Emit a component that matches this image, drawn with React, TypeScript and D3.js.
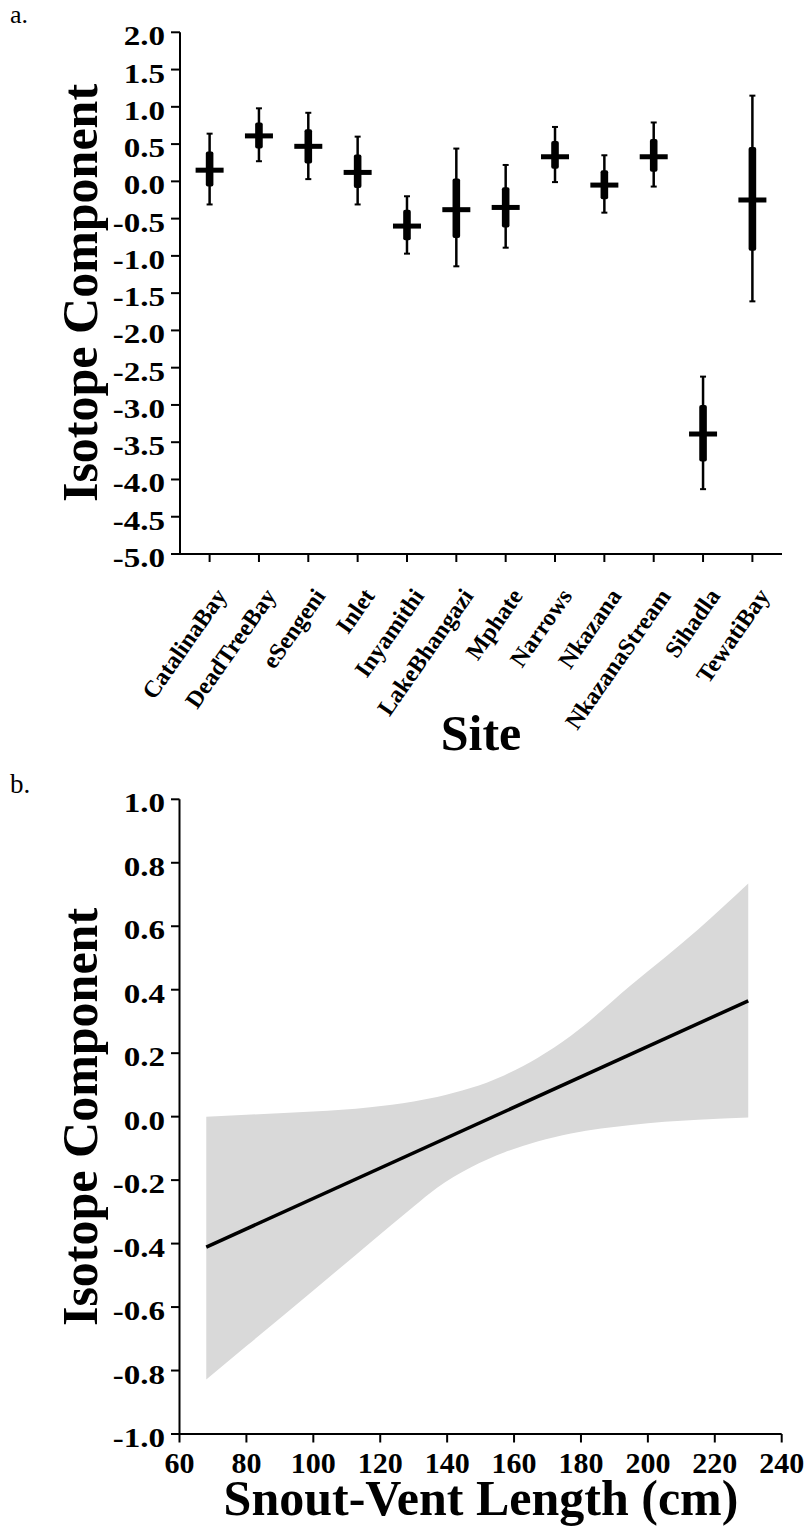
import React from "react";
import * as d3 from "d3";

// ---------- Panel a data ----------
const sites = ["CatalinaBay", "DeadTreeBay", "eSengeni", "Inlet", "Inyamithi", "LakeBhangazi", "Mphate", "Narrows", "Nkazana", "NkazanaStream", "Sihadla", "TewatiBay"];
const siteMean = [0.15, 0.61, 0.47, 0.12, -0.6, -0.38, -0.35, 0.33, -0.05, 0.33, -3.39, -0.25];
const siteBoxHi = [0.4, 0.79, 0.7, 0.36, -0.38, 0.04, -0.08, 0.54, 0.15, 0.57, -3.0, 0.46];
const siteBoxLo = [-0.07, 0.44, 0.24, -0.09, -0.79, -0.76, -0.62, 0.17, -0.24, 0.13, -3.76, -0.93];
const siteWhiskHi = [0.64, 0.98, 0.92, 0.6, -0.2, 0.44, 0.22, 0.73, 0.35, 0.79, -2.62, 1.15];
const siteWhiskLo = [-0.31, 0.27, 0.03, -0.31, -0.97, -1.14, -0.89, -0.01, -0.42, -0.07, -4.13, -1.61];
const yTicksA = d3.range(-5, 2.0001, 0.5);

// ---------- Panel b data ----------
const svlGrid = [68, 80, 100, 117, 130, 137, 147, 157, 167, 177, 195, 215, 230];
const bandUpper = [0.0, 0.006, 0.016, 0.03, 0.048, 0.062, 0.09, 0.13, 0.185, 0.255, 0.415, 0.59, 0.735];
const bandLower = [-0.828, -0.723, -0.548, -0.397, -0.283, -0.224, -0.16, -0.113, -0.078, -0.053, -0.026, -0.01, -0.003];
const fitX = [68, 230];
const fitY = [-0.411, 0.365];
const yTicksB = d3.range(-1, 1.0001, 0.2);
const xTicksB = d3.range(60, 240.001, 20);

const FONT = "'Liberation Serif', 'Times New Roman', serif";

export default function App() {
  // panel a scales
  const xA = d3.scalePoint<string>().domain(sites).range([180, 782]).padding(0.6);
  const yA = d3.scaleLinear().domain([-5, 2]).range([554, 32.3]);
  // panel b scales
  const xB = d3.scaleLinear().domain([60, 240]).range([179.5, 781.7]);
  const yB = d3.scaleLinear().domain([-1, 1]).range([1434, 799.3]);

  const area = d3
    .area<number>()
    .x((_, i) => xB(svlGrid[i]))
    .y0((_, i) => yB(bandLower[i]))
    .y1((_, i) => yB(bandUpper[i]))
    .curve(d3.curveMonotoneX);
  const line = d3
    .line<number>()
    .x((_, i) => xB(fitX[i]))
    .y((d) => yB(d));

  const yLabel = (y: number, txt: string, key: string) => (
    <text
      key={key}
      transform={`translate(165,${y + 13}) scale(1.18,1)`}
      textAnchor="end"
      fontFamily={FONT}
      fontWeight="bold"
      fontSize={28}
    >
      {txt}
    </text>
  );

  return (
    <svg width={811} height={1530} style={{ position: "absolute", left: 0, top: 0, background: "#fff" }}>
      <rect x={0} y={0} width={811} height={1530} fill="#fff" />
      {/* ---------- Panel a ---------- */}
      <text x={10} y={23} fontFamily={FONT} fontSize={26}>a.</text>
      <g stroke="#000" strokeWidth={2}>
        <line x1={180} x2={180} y1={yA(2)} y2={yA(-5) + 1} />
        <line x1={179} x2={782} y1={yA(-5)} y2={yA(-5)} />
        {yTicksA.map((t) => (
          <line key={"yt" + t} x1={171} x2={180} y1={yA(t)} y2={yA(t)} />
        ))}
        {sites.map((s) => (
          <line key={"xt" + s} x1={xA(s)} x2={xA(s)} y1={yA(-5)} y2={yA(-5) + 8} />
        ))}
      </g>
      {yTicksA.map((t) => yLabel(yA(t), t.toFixed(1), "yl" + t))}
      {sites.map((s) => (
        <text
          key={"xl" + s}
          transform={`translate(${(xA(s) as number) + 18},596) rotate(-55)`}
          textAnchor="end"
          fontFamily={FONT}
          fontWeight="bold"
          fontSize={24}
        >
          {s}
        </text>
      ))}
      {sites.map((s, i) => {
        const cx = xA(s) as number;
        return (
          <g key={"eb" + s}>
            <line x1={cx} x2={cx} y1={yA(siteWhiskHi[i])} y2={yA(siteWhiskLo[i])} stroke="#000" strokeWidth={2.5} />
            <line x1={cx - 3} x2={cx + 3} y1={yA(siteWhiskHi[i])} y2={yA(siteWhiskHi[i])} stroke="#000" strokeWidth={2} />
            <line x1={cx - 3} x2={cx + 3} y1={yA(siteWhiskLo[i])} y2={yA(siteWhiskLo[i])} stroke="#000" strokeWidth={2} />
            <rect
              x={cx - 3.8}
              width={7.6}
              y={yA(siteBoxHi[i])}
              height={yA(siteBoxLo[i]) - yA(siteBoxHi[i])}
              rx={2}
              fill="#000"
            />
            <rect x={cx - 14} width={28} y={yA(siteMean[i]) - 2.5} height={5} fill="#000" />
          </g>
        );
      })}
      <text
        transform={`translate(97,293) rotate(-90)`}
        textAnchor="middle"
        fontFamily={FONT}
        fontWeight="bold"
        fontSize={50}
      >
        Isotope Component
      </text>
      <text x={481} y={750} textAnchor="middle" fontFamily={FONT} fontWeight="bold" fontSize={50}>
        Site
      </text>

      {/* ---------- Panel b ---------- */}
      <text x={10} y={793} fontFamily={FONT} fontSize={27}>b.</text>
      <path d={area(svlGrid) || ""} fill="#d9d9d9" stroke="none" />
      <path d={line(fitY) || ""} fill="none" stroke="#000" strokeWidth={3.5} />
      <g stroke="#000" strokeWidth={2}>
        <line x1={179.5} x2={179.5} y1={yB(1)} y2={yB(-1) + 1} />
        <line x1={178.5} x2={781.7} y1={yB(-1)} y2={yB(-1)} />
        {yTicksB.map((t) => (
          <line key={"ybt" + t} x1={171} x2={179.5} y1={yB(t)} y2={yB(t)} />
        ))}
        {xTicksB.map((t) => (
          <line key={"xbt" + t} x1={xB(t)} x2={xB(t)} y1={yB(-1)} y2={yB(-1) + 8.5} />
        ))}
      </g>
      {yTicksB.map((t) => yLabel(yB(t), (Math.abs(t) < 1e-9 ? 0 : t).toFixed(1), "ybl" + t))}
      {xTicksB.map((t) => (
        <text
          key={"xbl" + t}
          x={xB(t)}
          y={1473}
          textAnchor="middle"
          fontFamily={FONT}
          fontWeight="bold"
          fontSize={30}
        >
          {t}
        </text>
      ))}
      <text
        transform={`translate(97,1117) rotate(-90)`}
        textAnchor="middle"
        fontFamily={FONT}
        fontWeight="bold"
        fontSize={50}
      >
        Isotope Component
      </text>
      <text x={481} y={1515} textAnchor="middle" fontFamily={FONT} fontWeight="bold" fontSize={50}>
        Snout-Vent Length (cm)
      </text>
    </svg>
  );
}
